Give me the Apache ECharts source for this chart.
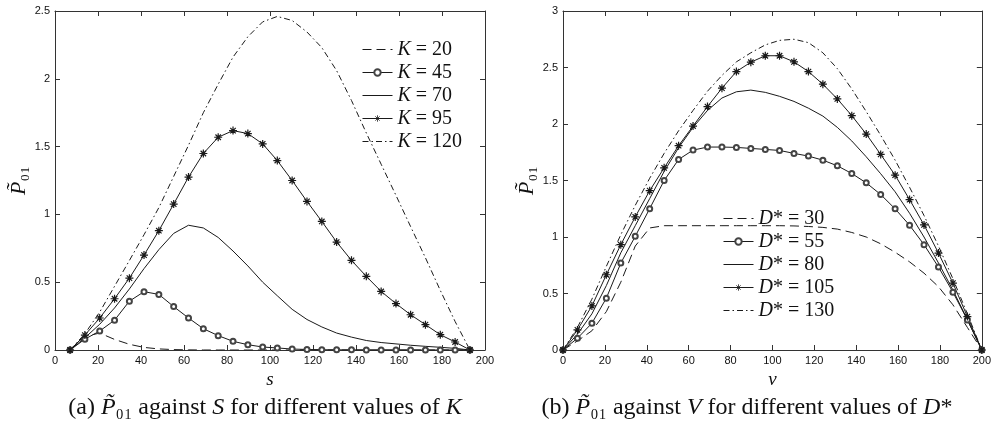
<!DOCTYPE html>
<html>
<head>
<meta charset="utf-8">
<script src="https://cdn.jsdelivr.net/npm/echarts@6/dist/echarts.min.js"></script>
<style>html,body{margin:0;padding:0;background:#fff}#c{width:994px;height:429px}</style>
</head>
<body>
<div id="c"></div>
<script>
// ---- left panel (a): P01 against s for different K ----
const sGrid = [7.0, 13.9, 20.8, 27.7, 34.6, 41.4, 48.3, 55.2, 62.1, 69.0, 75.9, 82.8, 89.7, 96.6, 103.4, 110.3, 117.2, 124.1, 131.0, 137.9, 144.8, 151.7, 158.6, 165.4, 172.3, 179.2, 186.1, 193.0];
const K20  = [0, 0.10, 0.125, 0.078, 0.042, 0.019, 0.008, 0.003, 0.001, 0, 0, 0, 0, 0, 0, 0, 0, 0, 0, 0, 0, 0, 0, 0, 0, 0, 0, 0];
const K45  = [0, 0.08, 0.14, 0.22, 0.36, 0.43, 0.41, 0.32, 0.236, 0.157, 0.106, 0.064, 0.039, 0.022, 0.015, 0.007, 0.004, 0.002, 0.001, 0.001, 0, 0, 0, 0, 0, 0, 0, 0];
const K70  = [0, 0.09, 0.19, 0.31, 0.45, 0.60, 0.74, 0.86, 0.92, 0.90, 0.83, 0.73, 0.62, 0.50, 0.40, 0.30, 0.225, 0.17, 0.125, 0.095, 0.07, 0.055, 0.045, 0.035, 0.027, 0.02, 0.012, 0];
const K95  = [0, 0.11, 0.236, 0.378, 0.53, 0.70, 0.88, 1.076, 1.275, 1.449, 1.569, 1.618, 1.596, 1.52, 1.397, 1.25, 1.096, 0.948, 0.796, 0.661, 0.543, 0.432, 0.342, 0.26, 0.187, 0.113, 0.059, 0];
const K120 = [0, 0.12, 0.28, 0.47, 0.66, 0.85, 1.05, 1.28, 1.51, 1.75, 1.96, 2.16, 2.31, 2.42, 2.46, 2.43, 2.345, 2.23, 2.06, 1.84, 1.60, 1.37, 1.14, 0.91, 0.68, 0.44, 0.21, 0];
const kNames = ['K = 20', 'K = 45', 'K = 70', 'K = 95', 'K = 120'];

// ---- right panel (b): P01 against v for different D* ----
const vGrid = [0, 6.9, 13.8, 20.7, 27.6, 34.5, 41.4, 48.3, 55.2, 62.1, 69.0, 75.9, 82.8, 89.7, 96.6, 103.4, 110.3, 117.2, 124.1, 131.0, 137.9, 144.8, 151.7, 158.6, 165.5, 172.4, 179.3, 186.2, 193.1, 200];
const D30  = [0, 0.08, 0.17, 0.34, 0.60, 0.92, 1.08, 1.10, 1.10, 1.10, 1.10, 1.10, 1.10, 1.10, 1.10, 1.10, 1.098, 1.093, 1.085, 1.07, 1.04, 1.00, 0.94, 0.865, 0.78, 0.68, 0.56, 0.40, 0.20, 0];
const D55  = [0, 0.104, 0.237, 0.459, 0.769, 1.006, 1.251, 1.50, 1.686, 1.769, 1.796, 1.796, 1.793, 1.784, 1.775, 1.766, 1.74, 1.716, 1.68, 1.63, 1.562, 1.479, 1.376, 1.249, 1.104, 0.932, 0.734, 0.512, 0.266, 0];
const D80  = [0, 0.14, 0.32, 0.57, 0.86, 1.10, 1.34, 1.58, 1.79, 1.97, 2.12, 2.23, 2.285, 2.30, 2.28, 2.245, 2.20, 2.14, 2.07, 1.97, 1.85, 1.71, 1.56, 1.40, 1.21, 1.00, 0.77, 0.53, 0.27, 0];
const D105 = [0, 0.178, 0.39, 0.666, 0.932, 1.178, 1.41, 1.612, 1.808, 1.982, 2.154, 2.317, 2.464, 2.547, 2.604, 2.604, 2.55, 2.464, 2.352, 2.222, 2.074, 1.911, 1.731, 1.547, 1.331, 1.107, 0.858, 0.592, 0.296, 0];
const D130 = [0, 0.20, 0.45, 0.74, 1.02, 1.28, 1.52, 1.74, 1.94, 2.12, 2.29, 2.43, 2.55, 2.63, 2.70, 2.74, 2.75, 2.72, 2.63, 2.49, 2.31, 2.11, 1.90, 1.68, 1.44, 1.19, 0.92, 0.63, 0.32, 0];
const dNames = ['D* = 30', 'D* = 55', 'D* = 80', 'D* = 105', 'D* = 130'];

const xTicks = {min: 0, max: 200, interval: 20};
const yTicksA = {min: 0, max: 2.5, interval: 0.5};
const yTicksB = {min: 0, max: 3, interval: 0.5};

const INK = '#1a1a1a';
const SERIF = 'Liberation Serif';
const SANS = 'Liberation Sans';
const STAR = 'path://M0,5L10,5M5,0L5,10M1.6,1.6L8.4,8.4M8.4,1.6L1.6,8.4';

function pairs(xs, ys) { return xs.map((x, i) => [x, ys[i]]); }

const styles = [
  {symbol: 'none', lineStyle: {type: [9, 5]}},
  {symbol: 'emptyCircle', symbolSize: 5, itemStyle: {color: '#444', borderWidth: 0.8}},
  {symbol: 'none', lineStyle: {type: 'solid'}},
  {symbol: STAR, symbolSize: 8, itemStyle: {color: INK, borderColor: INK, borderWidth: 1.2}},
  {symbol: 'none', lineStyle: {type: [6, 3, 1.5, 3]}}
];

function mkSeries(name, xs, ys, st, gi) {
  return {
    name: name, type: 'line', xAxisIndex: gi * 2, yAxisIndex: gi * 2,
    data: pairs(xs, ys), showSymbol: st.symbol !== 'none', symbol: st.symbol,
    symbolSize: st.symbolSize || 6, animation: false, smooth: false,
    color: INK,
    lineStyle: Object.assign({color: INK, width: 1}, st.lineStyle || {}),
    itemStyle: st.itemStyle || {color: INK}
  };
}

const seriesA = [K20, K45, K70, K95, K120].map((d, i) => mkSeries(kNames[i], sGrid, d, styles[i], 0));
const seriesB = [D30, D55, D80, D105, D130].map((d, i) => mkSeries(dNames[i], vGrid, d, styles[i], 1));

function xAx(gi, ticks, name) {
  return [
    {gridIndex: gi, type: 'value', min: ticks.min, max: ticks.max, interval: ticks.interval,
     axisLine: {onZero: false, lineStyle: {color: '#333', width: 1}},
     axisTick: {inside: true, length: 5, lineStyle: {color: '#333'}},
     axisLabel: {margin: 5, fontFamily: SANS, fontSize: 11, color: '#111'},
     splitLine: {show: false},
     name: name, nameLocation: 'middle', nameGap: 19,
     nameTextStyle: {fontFamily: SERIF, fontStyle: 'italic', fontSize: 19, color: '#111'}},
    {gridIndex: gi, type: 'value', position: 'top', min: ticks.min, max: ticks.max, interval: ticks.interval,
     axisLine: {onZero: false, lineStyle: {color: '#333', width: 1}},
     axisTick: {inside: true, length: 5, lineStyle: {color: '#333'}},
     axisLabel: {show: false}, splitLine: {show: false}}
  ];
}
function yAx(gi, ticks) {
  return [
    {gridIndex: gi, type: 'value', min: ticks.min, max: ticks.max, interval: ticks.interval,
     axisLine: {show: true, onZero: false, lineStyle: {color: '#333', width: 1}},
     axisTick: {show: true, inside: true, length: 5, lineStyle: {color: '#333'}},
     axisLabel: {margin: 5, fontFamily: SANS, fontSize: 11, color: '#111'},
     splitLine: {show: false},
     name: '{i|P\u0303}{n|\u2080\u2081}', nameLocation: 'middle', nameGap: 25, nameRotate: 90,
     nameTextStyle: {fontFamily: SERIF, fontSize: 21, color: '#111',
       rich: {i: {fontFamily: SERIF, fontStyle: 'italic', fontSize: 22, color: '#111'},
              n: {fontFamily: SERIF, fontSize: 22, color: '#111'}}}},
    {gridIndex: gi, type: 'value', position: 'right', min: ticks.min, max: ticks.max, interval: ticks.interval,
     axisLine: {show: true, onZero: false, lineStyle: {color: '#333', width: 1}},
     axisTick: {show: true, inside: true, length: 5, lineStyle: {color: '#333'}},
     axisLabel: {show: false}, splitLine: {show: false}}
  ];
}

// legend entries: hide the centre symbol for series drawn without markers
function legendData(names, stylesArr) {
  return names.map((n, i) => stylesArr[i].symbol === 'none' ? {name: n, itemStyle: {opacity: 0}} : {name: n});
}

function legendFor(names, left, top, fmt) {
  return {
    data: legendData(names, styles), orient: 'vertical', left: left, top: top, padding: 0,
    itemWidth: 30, itemHeight: 8, itemGap: 3, selectedMode: false,
    lineStyle: {width: 1},
    itemStyle: {borderWidth: 0.8},
    textStyle: {fontFamily: SERIF, fontSize: 20, lineHeight: 20, color: '#111',
      rich: {i: {fontFamily: SERIF, fontStyle: 'italic', fontSize: 20, lineHeight: 20, color: '#111'},
             r: {fontFamily: SERIF, fontSize: 20, lineHeight: 20, color: '#111'}}},
    formatter: fmt
  };
}

const capRich = {
  i: {fontFamily: SERIF, fontStyle: 'italic', fontSize: 24, color: '#111'},
  n: {fontFamily: SERIF, fontSize: 24, color: '#111'}
};

const option = {
  animation: false,
  backgroundColor: '#fff',
  grid: [
    {left: 55, top: 11, width: 430, height: 339},
    {left: 563, top: 11, width: 430, height: 339}
  ],
  xAxis: xAx(0, xTicks, 's').concat(xAx(1, xTicks, 'v')),
  yAxis: yAx(0, yTicksA).concat(yAx(1, yTicksB)),
  legend: [
    legendFor(kNames, 362, 39.5, n => '{i|K}{r| = ' + n.split('= ')[1] + '}'),
    legendFor(dNames, 723, 208.5, n => '{i|D}{r|* = ' + n.split('= ')[1] + '}')
  ],
  series: seriesA.concat(seriesB),
  graphic: [
    {type: 'text', x: 265, y: 408, style: {text: '(a) {i|P\u0303}{n|\u2080\u2081} against {i|S} for different values of {i|K}',
      rich: capRich, fontFamily: SERIF, fontSize: 24, fill: '#111', align: 'center', verticalAlign: 'middle'}},
    {type: 'text', x: 747, y: 408, style: {text: '(b) {i|P\u0303}{n|\u2080\u2081} against {i|V} for different values of {i|D}{n|*}',
      rich: capRich, fontFamily: SERIF, fontSize: 24, fill: '#111', align: 'center', verticalAlign: 'middle'}}
  ]
};

const chart = echarts.init(document.getElementById('c'), null, {renderer: 'canvas'});
chart.setOption(option);
</script>
</body>
</html>
